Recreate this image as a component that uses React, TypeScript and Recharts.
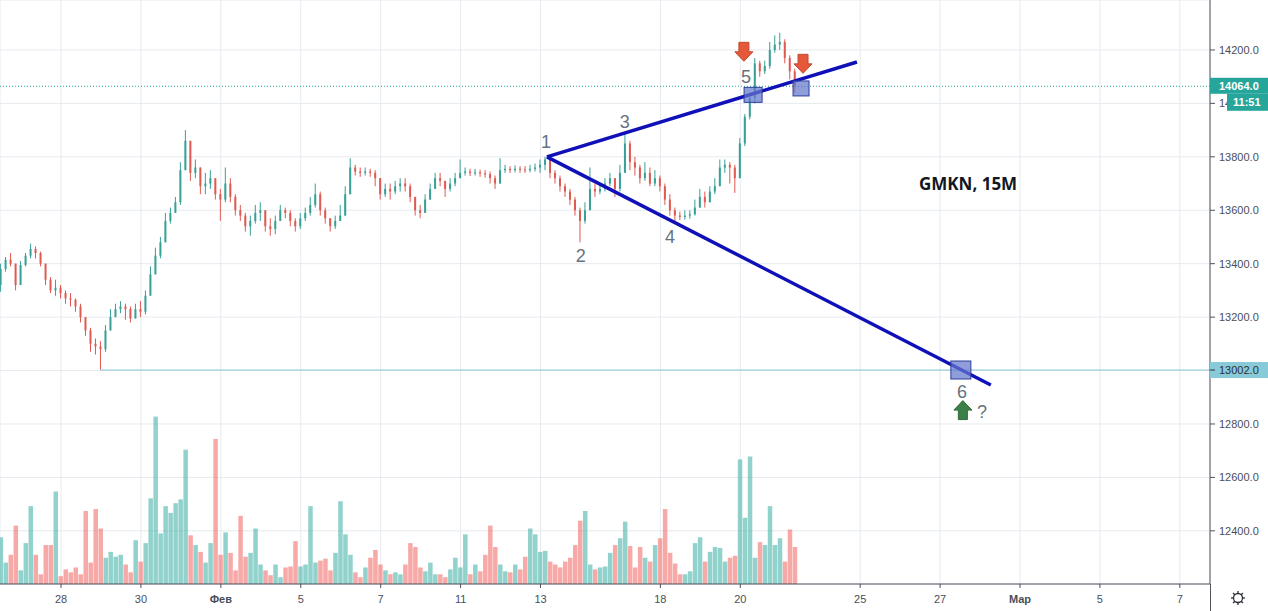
import React from 'react';
import { ComposedChart, Bar, XAxis, YAxis, CartesianGrid, ReferenceLine, ReferenceDot } from 'recharts';

// 15-minute GMKN candles, sampled every 1/8 trading day, starting 1.5 days before 28 Jan
const startDay = -1.5;
const dayStep = 0.125;
const firstOpen = 13320;
const closes = [
  13380, 13415, 13400, 13320, 13395, 13430, 13455, 13440, 13400, 13340,
  13300, 13310, 13290, 13270, 13265, 13240, 13200, 13150, 13100, 13090,
  13080, 13150, 13200, 13230, 13240, 13230, 13195, 13230, 13220, 13280,
  13360, 13430, 13480, 13560, 13590, 13630, 13750, 13860, 13740, 13760,
  13690, 13700, 13720, 13660, 13640, 13700, 13650, 13600, 13580, 13540,
  13560, 13590, 13600, 13540, 13530, 13560, 13600, 13590, 13560, 13540,
  13570, 13590, 13620, 13660, 13600, 13570, 13540, 13560, 13580, 13660,
  13760, 13745, 13740, 13745, 13740, 13720, 13660, 13680, 13670, 13690,
  13700, 13690, 13650, 13600, 13590, 13640, 13680, 13720, 13710, 13680,
  13700, 13720, 13740, 13745, 13740, 13742, 13738, 13735, 13720, 13700,
  13750, 13755, 13750, 13755, 13752, 13750, 13755, 13760, 13770, 13790,
  13740, 13720, 13690, 13670, 13640, 13600, 13560, 13600, 13680, 13670,
  13680, 13700, 13720, 13680, 13740, 13850, 13780, 13760, 13720, 13740,
  13700, 13720, 13690, 13640, 13600, 13580, 13575, 13580, 13585, 13610,
  13650, 13630, 13670, 13690, 13760, 13770, 13760, 13720, 13850, 13950,
  14020, 14150, 14120, 14140, 14200, 14220, 14230, 14170, 14120, 14064,
];
const highs = [
  13400, 13425, 13440, 13400, 13410, 13440, 13475, 13465, 13445, 13400,
  13350, 13340, 13320, 13300, 13290, 13270, 13250, 13200, 13160, 13120,
  13110, 13170, 13230, 13250, 13260, 13250, 13240, 13250, 13260, 13300,
  13390, 13460, 13500, 13590, 13610, 13650, 13780, 13900, 13860, 13790,
  13760, 13740, 13750, 13720, 13680, 13760, 13720, 13660, 13620, 13590,
  13580, 13620, 13630, 13600, 13570, 13580, 13620, 13610, 13600, 13570,
  13590, 13610, 13650, 13700, 13670, 13610, 13570, 13580, 13620, 13690,
  13795, 13770, 13760, 13760, 13755, 13750, 13720, 13700, 13700, 13710,
  13720, 13720, 13700, 13650, 13620, 13660, 13700, 13740, 13740, 13710,
  13720, 13740, 13790, 13760, 13755, 13755, 13752, 13750, 13745, 13730,
  13795, 13770, 13765, 13768, 13765, 13765, 13770, 13775, 13790, 13800,
  13790, 13750, 13730, 13700, 13680, 13650, 13610, 13630, 13760, 13700,
  13700, 13720, 13740, 13720, 13770, 13890, 13860, 13800, 13770, 13780,
  13760, 13750, 13730, 13700, 13660, 13610, 13595, 13600, 13600, 13640,
  13680, 13670, 13690, 13720, 13790, 13790, 13780, 13770, 13870, 13960,
  14040, 14170, 14160, 14160, 14230, 14255, 14264, 14240, 14180, 14130,
];
const lows = [
  13295, 13370, 13390, 13300, 13320, 13390, 13420, 13420, 13390, 13320,
  13290, 13280, 13270, 13250, 13240, 13220, 13180, 13130, 13070, 13060,
  13002, 13070, 13150, 13200, 13215, 13190, 13180, 13200, 13200, 13210,
  13280, 13360, 13420, 13500, 13550, 13590, 13620, 13760, 13710, 13720,
  13660, 13660, 13680, 13640, 13560, 13630, 13630, 13580, 13560, 13520,
  13505, 13550, 13560, 13520, 13505, 13510, 13560, 13570, 13540, 13520,
  13530, 13560, 13580, 13610, 13580, 13550, 13520, 13530, 13560, 13600,
  13680, 13730, 13725, 13730, 13725, 13690, 13640, 13650, 13640, 13660,
  13670, 13670, 13630, 13580, 13570, 13600, 13640, 13680, 13690, 13650,
  13670, 13690, 13720, 13730, 13728, 13730, 13725, 13722, 13700, 13680,
  13700, 13740, 13740, 13742, 13740, 13740, 13742, 13745, 13740, 13750,
  13720, 13700, 13670, 13650, 13620, 13580, 13480, 13550, 13600, 13650,
  13660, 13670, 13690, 13650, 13670, 13760, 13750, 13730, 13700, 13710,
  13690, 13690, 13670, 13620, 13580, 13560, 13563, 13565, 13568, 13580,
  13620, 13610, 13640, 13660, 13690, 13740, 13700, 13665, 13720, 13840,
  13940, 14000, 14100, 14110, 14130, 14190, 14200, 14150, 14090, 14040,
];
const volumes = [
  96, 44, 60, 120, 28, 84, 160, 60, 20, 80,
  80, 190, 16, 30, 24, 34, 20, 150, 44, 154,
  114, 54, 66, 56, 60, 40, 24, 90, 46, 84,
  176, 344, 104, 160, 146, 166, 174, 276, 100, 80,
  66, 44, 84, 298, 60, 106, 64, 28, 140, 56,
  64, 114, 40, 28, 18, 40, 14, 34, 36, 88,
  36, 40, 160, 44, 48, 52, 28, 64, 170, 102,
  60, 24, 14, 34, 54, 70, 40, 28, 20, 24,
  20, 40, 84, 76, 34, 26, 44, 20, 20, 14,
  30, 54, 34, 102, 20, 40, 26, 60, 120, 76,
  40, 26, 24, 40, 30, 56, 114, 102, 66, 68,
  46, 40, 34, 46, 54, 80, 130, 150, 40, 30,
  34, 36, 64, 80, 94, 128, 78, 34, 76, 54,
  46, 80, 94, 154, 64, 42, 20, 20, 26, 84,
  96, 46, 66, 76, 74, 46, 54, 58, 256, 136,
  262, 54, 86, 80, 160, 80, 94, 46, 112, 76,
];

// trading-day index: 28 Jan = 0
const dayTicks = [0, 2, 4, 6, 8, 10, 12, 15, 17, 20, 22, 24, 26, 28];
const dayLabels = ['28', '30', 'Фев', '5', '7', '11', '13', '18', '20', '25', '27', 'Мар', '5', '7'];
const monthLabels = ['Фев', 'Мар'];
const priceTicks = [12400, 12600, 12800, 13000, 13200, 13400, 13600, 13800, 14000, 14200];
const xDomain = [-1.527, 28.755];
const yDomain = [12201, 14387];

const lastPrice = 14064;
const lastTime = '11:51';
const supportPrice = 13002;
const supportStart = 0.976;

const wave = [
  { n: '1', t: 12.14, p: 13856 },
  { n: '2', t: 13.01, p: 13429 },
  { n: '3', t: 14.11, p: 13934 },
  { n: '4', t: 15.24, p: 13500 },
  { n: '5', t: 17.14, p: 14099 },
  { n: '6', t: 22.55, p: 12920 },
  { n: '?', t: 23.05, p: 12845 },
];
const lineStart = { x: 12.16, y: 13800 };
const upperEnd = { x: 19.92, y: 14155 };
const lowerEnd = { x: 23.27, y: 12946 };
const squares = [
  { t: 17.32, p: 14032, w: 18, h: 15 },
  { t: 18.52, p: 14056, w: 16, h: 15 },
  { t: 22.52, p: 13002, w: 20, h: 18 },
];
const downArrows = [
  { t: 17.09, p: 14193 },
  { t: 18.57, p: 14148 },
];
const upArrows = [{ t: 22.57, p: 12852 }];
const title = { text: 'GMKN, 15M', t: 22.7, p: 13700 };

const data = closes.map((c, i) => {
  const o = i === 0 ? firstOpen : closes[i - 1];
  return {
    t: startDay + i * dayStep,
    o,
    c,
    h: Math.max(highs[i], o, c),
    l: Math.min(lows[i], o, c),
    v: volumes[i],
  };
});

const UP = '#26a69a';
const DOWN = '#ef5350';
const C_UP = '#38a096';
const C_DOWN = '#de5a52';
const FONT = '"Liberation Sans", Arial, sans-serif';

const Candle = (props: any) => {
  const { x, y, width, height, payload } = props;
  if (!payload) return null;
  const top = Math.min(y, y + height);
  const bot = Math.max(y, y + height);
  const range = payload.h - payload.l || 1;
  const py = (v: number) => top + ((payload.h - v) / range) * (bot - top);
  const up = payload.c >= payload.o;
  const col = up ? C_UP : C_DOWN;
  const cx = x + width / 2;
  const b1 = py(Math.max(payload.o, payload.c));
  const b2 = py(Math.min(payload.o, payload.c));
  return (
    <g>
      <line x1={cx} x2={cx} y1={top} y2={bot} stroke={col} strokeWidth={1} />
      <rect x={x} y={b1} width={width} height={Math.max(1, b2 - b1)} fill={col} />
    </g>
  );
};

const VolBar = (props: any) => {
  const { x, y, width, height, payload } = props;
  if (!payload) return null;
  const up = payload.c >= payload.o;
  return (
    <rect
      x={x}
      y={Math.min(y, y + height)}
      width={width}
      height={Math.abs(height)}
      fill={up ? 'rgba(38,166,154,0.5)' : 'rgba(239,83,80,0.5)'}
    />
  );
};

const XTick = (props: any) => {
  const { x, y, payload } = props;
  const idx = dayTicks.indexOf(payload.value);
  const lab = idx >= 0 ? dayLabels[idx] : '';
  const bold = monthLabels.includes(lab);
  return (
    <text x={x} y={y} dy="0.71em" textAnchor="middle" fontSize={11} fontFamily={FONT} fill="#4a4e58" fontWeight={bold ? 700 : 400}>
      {lab}
    </text>
  );
};

const YTick = (props: any) => {
  const { x, y, payload } = props;
  return (
    <text x={x} y={y} dy={4} textAnchor="start" fontSize={11} fontFamily={FONT} fill="#4a4e58">
      {Number(payload.value).toFixed(1)}
    </text>
  );
};

const LastPriceBox = (props: any) => {
  const { cx, cy } = props;
  return (
    <g>
      <rect x={cx} y={cy - 8.5} width={58} height={16} fill={UP} />
      <text x={cx + 9} y={cy} dy={4} fontSize={11} fontFamily={FONT} fill="#fff" fontWeight={700}>
        {lastPrice.toFixed(1)}
      </text>
      <rect x={cx + 17} y={cy + 7.5} width={41} height={17} fill={UP} />
      <text x={cx + 23} y={cy + 16} dy={4} fontSize={11} fontFamily={FONT} fill="#fff" fontWeight={700}>
        {lastTime}
      </text>
    </g>
  );
};

const SupportBox = (props: any) => {
  const { cx, cy } = props;
  return (
    <g>
      <rect x={cx} y={cy - 8} width={58} height={16} fill="#89cad8" />
      <line x1={cx} x2={cx + 5} y1={cy} y2={cy} stroke="#333" />
      <text x={cx + 9} y={cy} dy={4} fontSize={11} fontFamily={FONT} fill="#2b2f36">
        {supportPrice.toFixed(1)}
      </text>
    </g>
  );
};

const makeSquare = (w: number, h: number) => (props: any) => {
  const { cx, cy } = props;
  return <rect x={cx - w / 2} y={cy - h / 2} width={w} height={h} fill="rgba(100,120,205,0.72)" stroke="#2c3d9c" strokeWidth={1} />;
};

const DownArrow = (props: any) => {
  const { cx, cy } = props;
  const pts = [
    [cx - 5, cy - 9.5], [cx + 5, cy - 9.5], [cx + 5, cy], [cx + 9, cy], [cx, cy + 9.5], [cx - 9, cy], [cx - 5, cy],
  ].map((p) => p.join(',')).join(' ');
  return <polygon points={pts} fill="#e5583a" stroke="#c04a30" strokeWidth={1} />;
};

const UpArrow = (props: any) => {
  const { cx, cy } = props;
  const pts = [
    [cx - 4.5, cy + 9.5], [cx + 4.5, cy + 9.5], [cx + 4.5, cy], [cx + 9, cy], [cx, cy - 9.5], [cx - 9, cy], [cx - 4.5, cy],
  ].map((p) => p.join(',')).join(' ');
  return <polygon points={pts} fill="#3c7f48" stroke="#2f6a3a" strokeWidth={1} />;
};

const makeWaveLabel = (n: string) => (props: any) => {
  const { cx, cy } = props;
  return (
    <text x={cx} y={cy} dy="0.36em" textAnchor="middle" fontSize={18} fontFamily={FONT} fill="#66727e">
      {n}
    </text>
  );
};

const TitleText = (props: any) => {
  const { cx, cy } = props;
  return (
    <text x={cx} y={cy} dy={6} textAnchor="middle" fontSize={17} fontWeight={700} fontFamily='"Open Sans", "DejaVu Sans", sans-serif' fill="#131722">
      {title.text}
    </text>
  );
};

export default function App() {
  return (
    <div style={{ position: 'absolute', left: 0, top: 0, width: 1268, height: 611, background: '#fff' }}>
      <ComposedChart width={1268} height={611} data={data} margin={{ top: 0, right: 0, bottom: 0, left: 0 }}>
        <CartesianGrid xAxisId="x" yAxisId="p" stroke="#e6eaef" strokeWidth={1} />
        <XAxis
          xAxisId="x"
          dataKey="t"
          type="number"
          domain={xDomain}
          allowDataOverflow
          ticks={dayTicks}
          tick={<XTick />}
          tickSize={4}
          tickMargin={7}
          height={27}
          axisLine={{ stroke: '#4f535c' }}
          tickLine={{ stroke: '#4f535c' }}
          interval={0}
        />
        <XAxis xAxisId="xv" dataKey="t" type="number" domain={xDomain} allowDataOverflow hide />
        <YAxis
          yAxisId="p"
          orientation="right"
          type="number"
          domain={yDomain}
          allowDataOverflow
          ticks={priceTicks}
          tick={<YTick />}
          tickSize={5}
          tickMargin={4}
          width={58}
          axisLine={{ stroke: '#4f535c' }}
          tickLine={{ stroke: '#4f535c' }}
          interval={0}
        />
        <YAxis yAxisId="v" type="number" domain={[0, 1200]} hide />
        <Bar xAxisId="xv" yAxisId="v" dataKey="v" barSize={5} shape={<VolBar />} isAnimationActive={false} />
        <Bar xAxisId="x" yAxisId="p" dataKey={(d: any) => [d.l, d.h]} barSize={2} shape={<Candle />} isAnimationActive={false} />
        <ReferenceLine xAxisId="x" yAxisId="p" y={lastPrice} stroke={UP} strokeDasharray="1 2" strokeWidth={1} />
        <ReferenceLine
          xAxisId="x"
          yAxisId="p"
          segment={[{ x: supportStart, y: supportPrice }, { x: xDomain[1], y: supportPrice }]}
          stroke="#89c6d4"
          strokeWidth={1}
        />
        <ReferenceLine xAxisId="x" yAxisId="p" segment={[lineStart, upperEnd]} stroke="#1010b8" strokeWidth={3.5} zIndex={700} />
        <ReferenceLine xAxisId="x" yAxisId="p" segment={[lineStart, lowerEnd]} stroke="#1010b8" strokeWidth={3.5} zIndex={700} />
        {squares.map((s, i) => (
          <ReferenceDot key={'sq' + i} xAxisId="x" yAxisId="p" x={s.t} y={s.p} r={1} ifOverflow="visible" shape={makeSquare(s.w, s.h)} zIndex={800} />
        ))}
        {downArrows.map((a, i) => (
          <ReferenceDot key={'da' + i} xAxisId="x" yAxisId="p" x={a.t} y={a.p} r={1} ifOverflow="visible" shape={DownArrow} zIndex={800} />
        ))}
        {upArrows.map((a, i) => (
          <ReferenceDot key={'ua' + i} xAxisId="x" yAxisId="p" x={a.t} y={a.p} r={1} ifOverflow="visible" shape={UpArrow} zIndex={800} />
        ))}
        {wave.map((w, i) => (
          <ReferenceDot key={'w' + i} xAxisId="x" yAxisId="p" x={w.t} y={w.p} r={1} ifOverflow="visible" shape={makeWaveLabel(w.n)} zIndex={800} />
        ))}
        <ReferenceDot xAxisId="x" yAxisId="p" x={title.t} y={title.p} r={1} ifOverflow="visible" shape={TitleText} zIndex={800} />
        <ReferenceDot xAxisId="x" yAxisId="p" x={xDomain[1]} y={lastPrice} r={1} ifOverflow="visible" shape={LastPriceBox} zIndex={2500} />
        <ReferenceDot xAxisId="x" yAxisId="p" x={xDomain[1]} y={supportPrice} r={1} ifOverflow="visible" shape={SupportBox} zIndex={2500} />
      </ComposedChart>
      <svg width={1268} height={611} style={{ position: 'absolute', left: 0, top: 0, pointerEvents: 'none' }}>
        <line x1={1210.5} x2={1210.5} y1={584} y2={611} stroke="#4f535c" />
        <g transform="translate(1238,598)" stroke="#2a2e39" strokeWidth={1.3} fill="none">
          <circle r={4.5} />
          {[0, 45, 90, 135, 180, 225, 270, 315].map((a) => (
            <line key={a} x1={0} y1={-4.5} x2={0} y2={-7} transform={`rotate(${a})`} />
          ))}
        </g>
      </svg>
    </div>
  );
}
